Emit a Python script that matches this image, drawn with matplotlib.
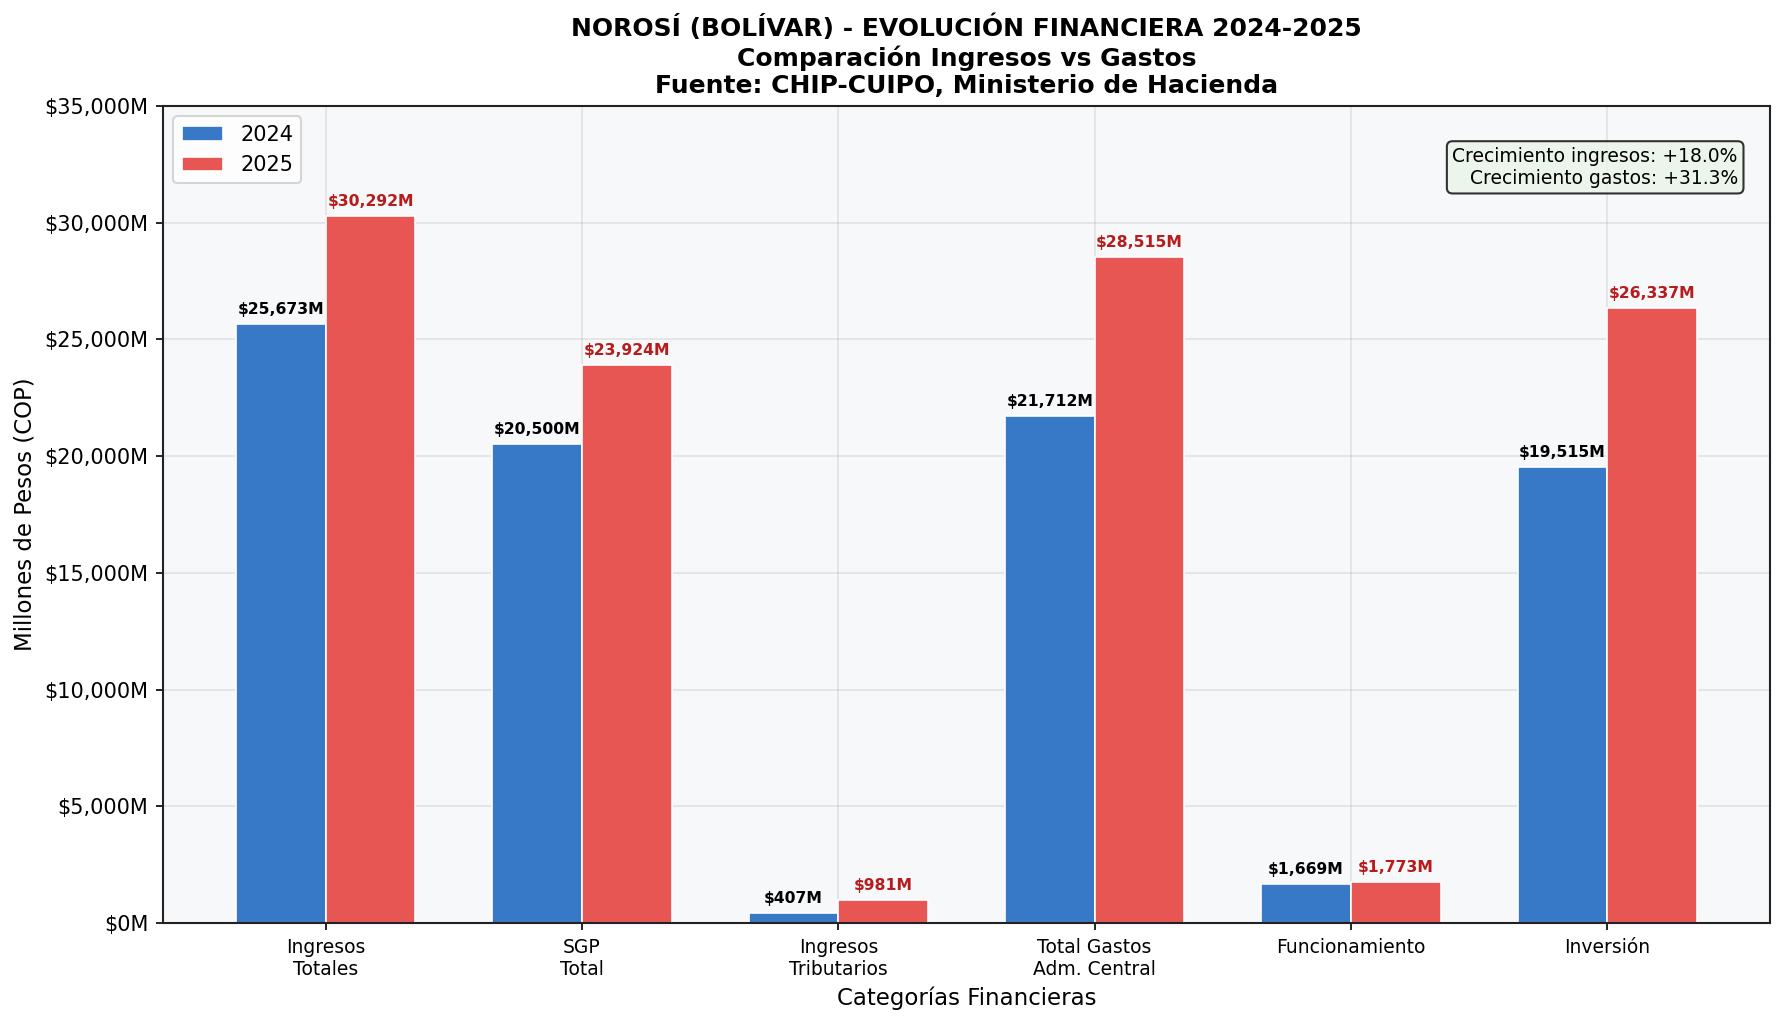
import matplotlib.pyplot as plt
import numpy as np
from matplotlib.ticker import FuncFormatter

CATEGORIES = ["Ingresos\nTotales", "SGP\nTotal", "Ingresos\nTributarios",
              "Total Gastos\nAdm. Central", "Funcionamiento", "Inversión"]
VALUES_2024 = [25673, 20500, 407, 21712, 1669, 19515]
VALUES_2025 = [30292, 23924, 981, 28515, 1773, 26337]
GROWTH_INGRESOS = 18.0
GROWTH_GASTOS = 31.3

C_2024 = "#3779c6"
C_2025 = "#e85654"

fig, ax = plt.subplots(figsize=(11.9, 6.84), dpi=150)
fig.subplots_adjust(left=0.0913, right=0.9916, top=0.8967, bottom=0.1004)
ax.set_facecolor("#f7f8fa")

x = np.arange(len(CATEGORIES))
w = 0.35
b1 = ax.bar(x - w / 2, VALUES_2024, w, color=C_2024, edgecolor="white", linewidth=0.8, label="2024")
b2 = ax.bar(x + w / 2, VALUES_2025, w, color=C_2025, edgecolor="white", linewidth=0.8, label="2025")

for bar, v in zip(b1, VALUES_2024):
    ax.text(bar.get_x() + bar.get_width() / 2, v + 300, f"${v:,}M",
            ha="center", va="bottom", fontsize=7.5, fontweight="bold", color="black")
for bar, v in zip(b2, VALUES_2025):
    ax.text(bar.get_x() + bar.get_width() / 2, v + 300, f"${v:,}M",
            ha="center", va="bottom", fontsize=7.5, fontweight="bold", color="#b71c1c")

ax.set_ylim(0, 35000)
ax.yaxis.set_major_formatter(FuncFormatter(lambda v, p: f"${v:,.0f}M"))
ax.set_xticks(x)
ax.set_xticklabels(CATEGORIES, fontsize=9)
ax.tick_params(axis="y", labelsize=10)
ax.set_xlabel("Categorías Financieras", fontsize=11)
ax.set_ylabel("Millones de Pesos (COP)", fontsize=11)
ax.set_title("NOROSÍ (BOLÍVAR) - EVOLUCIÓN FINANCIERA 2024-2025\n"
             "Comparación Ingresos vs Gastos\n"
             "Fuente: CHIP-CUIPO, Ministerio de Hacienda",
             fontsize=12, fontweight="bold", pad=6)
ax.grid(alpha=0.3)
ax.set_axisbelow(True)
for s in ax.spines.values():
    s.set_linewidth(1.0)
    s.set_color("#222222")

ax.legend(loc="upper left", fontsize=10)
ax.text(0.98, 0.95,
        f"Crecimiento ingresos: +{GROWTH_INGRESOS:.1f}%\nCrecimiento gastos: +{GROWTH_GASTOS:.1f}%",
        transform=ax.transAxes, ha="right", va="top", fontsize=9,
        bbox=dict(boxstyle="round,pad=0.3", facecolor="#e8f5e9", edgecolor="black", alpha=0.8))

fig.savefig("out.png", dpi=150)
